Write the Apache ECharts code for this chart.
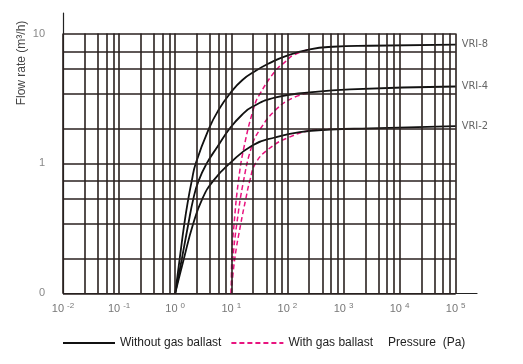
<!DOCTYPE html>
<html><head><meta charset="utf-8">
<script src="https://cdn.jsdelivr.net/npm/echarts@6/dist/echarts.min.js"></script>
<style>html,body{margin:0;padding:0;background:#fff}#c{width:523px;height:364px}</style>
</head><body><div id="c"></div>
<script>
// ---- data ----
const vri8Pressure = [1, 1.2, 1.45, 1.71, 1.97, 2.32, 4.01, 6.04, 9.77, 15.8, 27.3, 47.1, 93.5, 251, 644, 2946, 100000];
const vri8Flow     = [0.1, 0.183, 0.34, 0.531, 0.731, 1.0, 1.86, 2.61, 3.51, 4.39, 5.17, 5.89, 6.71, 7.56, 7.91, 8.05, 8.22];
const vri4Pressure = [1, 1.31, 1.71, 2.1, 2.6, 3.65, 5.66, 9.58, 15.4, 24.1, 62, 251, 1296, 100000];
const vri4Flow     = [0.1, 0.183, 0.34, 0.531, 0.731, 1.0, 1.343, 1.88, 2.36, 2.74, 3.23, 3.52, 3.72, 3.91];
const vri2Pressure = [1, 1.42, 2.08, 3.03, 4.72, 9.38, 24.1, 62, 166, 570, 2946, 100000];
const vri2Flow     = [0.1, 0.183, 0.34, 0.531, 0.731, 1.0, 1.38, 1.59, 1.74, 1.82, 1.86, 1.94];
const gb8Pressure  = [10, 10.2, 11.2, 13.4, 16.9, 25.5, 32, 62, 93.5, 126, 251];
const gb8Flow      = [0.1, 0.183, 0.34, 0.731, 1.343, 2.73, 3.4, 5.2, 6.1, 6.8, 7.56];
const gb4Pressure  = [10, 10.7, 12.5, 16.5, 23, 32, 64, 126, 251];
const gb4Flow      = [0.1, 0.183, 0.34, 0.731, 1.34, 1.81, 2.62, 3.2, 3.5];
const gb2Pressure  = [10, 11.5, 14.7, 18.1, 21.3, 27, 44.2, 100, 321, 600];
const gb2Flow      = [0.1, 0.183, 0.34, 0.531, 0.731, 1.0, 1.27, 1.57, 1.81, 1.83];
const modelNames   = ['VRI-8', 'VRI-4', 'VRI-2'];
const legendNames  = ['Without gas ballast', 'With gas ballast'];
// grid lines of the chart paper
const decades      = [0.01, 0.1, 1, 10, 100, 1000, 10000, 100000];
const xMinorMult   = [2.45, 4.2, 6, 8];
const yGridValues  = [0.1, 0.185, 0.345, 0.535, 0.73, 1, 1.85, 3.45, 5.35, 7.3, 10];

const zip = (a, b) => a.map((v, i) => [v, b[i]]);
const xMin = 0.01, xPaper = 100000, yMin = 0.1, yPaper = 10;

const gridLines = [];
decades.forEach((d, i) => {
  gridLines.push([{coord: [d, yMin]}, {coord: [d, yPaper]}]);
  if (i < decades.length - 1) xMinorMult.forEach(m => gridLines.push([{coord: [d * m, yMin]}, {coord: [d * m, yPaper]}]));
});
yGridValues.forEach(v => gridLines.push([{coord: [xMin, v]}, {coord: [xPaper, v]}]));

const isPow = v => Math.abs(Math.log10(v) - Math.round(Math.log10(v))) < 1e-6;

const blackStyle = {color: '#111', width: 1.8};
const pinkStyle = {color: '#e8147f', width: 1.5, type: [5, 3]};
function black(p, q, label) {
  return {type: 'line', name: legendNames[0], data: zip(p, q), smooth: 0.5, showSymbol: false, symbol: 'none',
    lineStyle: blackStyle, itemStyle: {color: '#111'}, z: 4,
    endLabel: {show: true, formatter: label, distance: 6, color: '#666', fontSize: 11,
      fontFamily: 'Liberation Sans Narrow, DejaVu Sans Condensed, sans-serif'}};
}
function pink(p, q) {
  return {type: 'line', name: legendNames[1], data: zip(p, q), smooth: 0.45, showSymbol: false, symbol: 'none',
    lineStyle: pinkStyle, itemStyle: {color: '#e8147f'}, z: 3};
}

const chart = echarts.init(document.getElementById('c'), null, {renderer: 'canvas'});
chart.setOption({
  animation: false,
  grid: {left: 63, top: 13, right: 46, bottom: 70.7, containLabel: false},
  xAxis: {type: 'log', min: 0.01, max: Math.pow(10, 5.38), logBase: 10,
    axisLine: {show: true, lineStyle: {color: '#222', width: 1.2}}, axisTick: {show: false}, splitLine: {show: false},
    axisLabel: {margin: 8, color: '#777',
      formatter: v => isPow(v) && v <= 100000 ? '{b|10}{s|' + Math.round(Math.log10(v)) + '}' : '',
      rich: {b: {fontSize: 11, color: '#777', fontFamily: 'Liberation Sans Narrow, sans-serif'},
             s: {fontSize: 8, color: '#777', padding: [0, 0, 7, 3], fontFamily: 'Liberation Sans Narrow, sans-serif'}}}},
  yAxis: {type: 'log', min: 0.1, max: Math.pow(10, 1.158), logBase: 10,
    axisLine: {show: true, lineStyle: {color: '#222', width: 1.2}}, axisTick: {show: false}, splitLine: {show: false},
    axisLabel: {margin: 18, color: '#888', fontSize: 11, fontFamily: 'Liberation Sans Narrow, sans-serif',
      formatter: v => {
        if (!isPow(v)) return '';
        const e = Math.round(Math.log10(v));
        if (e > 1) return '';
        return e === -1 ? '0' : String(Math.pow(10, e));
      }}},
  legend: {left: 62, top: 337, padding: 0, itemWidth: 52, itemHeight: 10, itemGap: 9,
    itemStyle: {opacity: 0, borderWidth: 0, color: 'transparent'},
    data: legendNames, textStyle: {fontSize: 12, color: '#222', fontFamily: 'Liberation Sans, Arial, sans-serif'}},
  title: {text: 'Pressure  (Pa)', left: 388, top: 337, padding: 0,
    textStyle: {fontSize: 12, fontWeight: 'normal', color: '#222', fontFamily: 'Liberation Sans, Arial, sans-serif'}},
  graphic: [{type: 'text', x: 22, y: 63, rotation: Math.PI / 2,
    style: {text: 'Flow rate (m³/h)', fill: '#444', fontSize: 12, align: 'center', verticalAlign: 'middle',
      fontFamily: 'Liberation Sans, Arial, sans-serif'}}],
  series: [
    {type: 'line', name: 'paper', data: [], silent: true, z: 1,
      markLine: {silent: true, symbol: 'none', label: {show: false}, animation: false,
        lineStyle: {color: '#2a211f', width: 1.6, type: 'solid'}, emphasis: {disabled: true}, data: gridLines}},
    black(vri8Pressure, vri8Flow, modelNames[0]),
    black(vri4Pressure, vri4Flow, modelNames[1]),
    black(vri2Pressure, vri2Flow, modelNames[2]),
    pink(gb8Pressure, gb8Flow),
    pink(gb4Pressure, gb4Flow),
    pink(gb2Pressure, gb2Flow)
  ]
});
</script></body></html>
